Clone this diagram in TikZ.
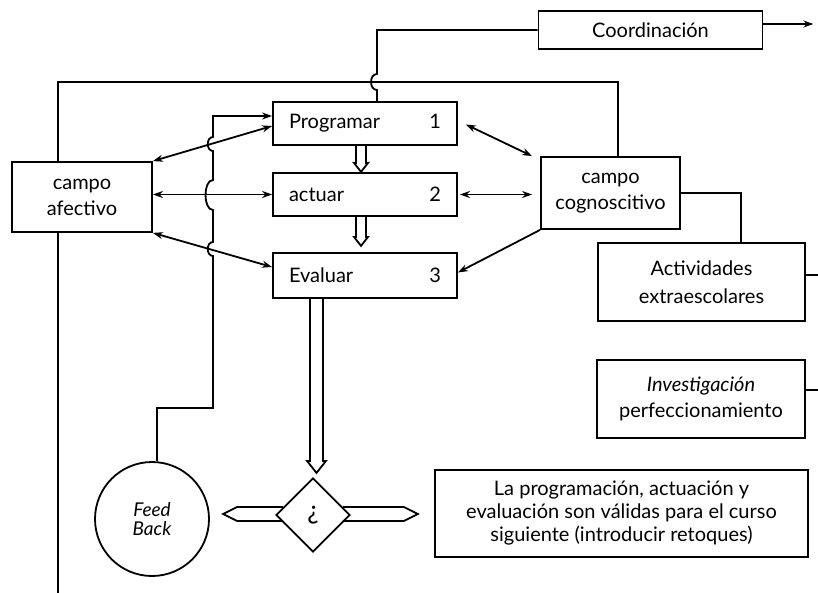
\documentclass[tikz,border=0pt]{standalone}
\usepackage{fontspec}
\setmainfont{Lato}
\usetikzlibrary{shapes.geometric,arrows.meta}
\begin{document}
\begin{tikzpicture}[x=0.5pt,y=-0.5pt,line width=0.9pt,
  box/.style={draw,rectangle,inner sep=0pt,align=center,font=\fontsize{10}{13}\selectfont},
  numbox/.style={box,minimum width=92pt,text width=76pt,align=left},
  >={Stealth[length=5pt,width=3.5pt]},
  hollow/.style={draw,line width=0.9pt,line join=miter}]
\useasboundingbox (0,0) rectangle (818,593);

% helper coordinates
\coordinate (xa) at (58,0);
\coordinate (topR) at (618,82);
\coordinate (cx) at (377,30);
\coordinate (ax) at (741,0);
\coordinate (bot) at (58,593);
\coordinate (fx) at (213,408);
\coordinate (edge) at (818,0);

% nodes
\node[box,minimum width=112pt,minimum height=19pt] (coord) at (650.5,30) {Coordinación};
\node[numbox,minimum height=21.5pt] (prog) at (365,123.5) {Programar\hfill 1};
\node[numbox,minimum height=21.5pt] (act) at (365,194.5) {actuar\hfill 2};
\node[numbox,minimum height=22.5pt] (eval) at (365,275.5) {Evaluar\hfill 3};
\node[box,minimum width=70pt,minimum height=35pt] (afect) at (82,197) {campo\\afectivo};
\node[box,minimum width=69.5pt,minimum height=36pt] (cogn) at (610.5,193) {campo\\cognoscitivo};
\node[box,minimum width=103.5pt,minimum height=39pt,font=\fontsize{10}{14}\selectfont] (activ) at (701.5,282) {Actividades\\extraescolares};
\node[box,minimum width=104pt,minimum height=39pt] (invest) at (701,399) {\textit{Investigación}\\perfeccionamiento};
\node[box,minimum width=186.5pt,minimum height=43.5pt,font=\fontsize{10}{11.5}\selectfont] (lapro) at (621.5,513.5) {La programación, actuación y\\evaluación son válidas para el curso\\siguiente (introducir retoques)};
\node[draw,circle,minimum size=57pt,inner sep=0pt,align=center,font=\fontsize{9.5}{9.5}\selectfont\itshape] (fb) at (152,519) {Feed\\Back};

% hollow arrows (drawn before diamond)
\draw[hollow] ([xshift=-4.5pt]prog.south) -- ++(0,17) -- ++(-2,0) -- ++(7,9) -- ++(7,-9) -- ++(-2,0) -- ++(0,-17);
\draw[hollow] ([xshift=-4.5pt]act.south) -- ++(0,20) -- ++(-2,0) -- ++(7,9) -- ++(7,-9) -- ++(-2,0) -- ++(0,-20);
\draw[hollow] ([xshift=-27.5pt]eval.south) -- ++(0,162) -- ++(-3,0) -- ++(9.5,12) -- ++(9.5,-12) -- ++(-3,0) -- ++(0,-162);

\node[draw,diamond,minimum width=37pt,minimum height=37pt,inner sep=0pt,fill=white,font=\fontsize{13}{14}\selectfont] (dia) at (313,515) {¿};
\draw[hollow] ([xshift=4pt,yshift=4pt]dia.west) -- ++(-46,0) -- ++(-14,7) -- ++(14,7) -- ++(46,0);
\draw[hollow] ([xshift=-4pt,yshift=4pt]dia.east) -- ++(61,0) -- ++(14,7) -- ++(-14,7) -- ++(-61,0);

% Coordinacion connectors
\draw (coord.west) -- (coord.west -| cx) -- (377,74) .. controls (369,74) and (369,90) .. (377,90) -- (prog.north -| cx);
\draw[->] ([yshift=3pt]coord.east) -- ++(50,0);

% top loop
\draw (afect.north -| xa) |- (topR) -- (cogn.north -| topR);
% left vertical
\draw (afect.south -| xa) -- (bot);

% campo afectivo
\draw[<->] ([yshift=-1.25pt]prog.west) -- (afect.north east);
\draw[<->] (afect.east |- act.west) -- (act.west);
\draw[<->] (afect.south east) -- ([yshift=4.25pt]eval.west);

% campo cognoscitivo
\draw[<->] ([xshift=4pt,yshift=-0.5pt]prog.east) -- ([xshift=-4pt]cogn.north west);
\draw[<->,shorten <=1pt,shorten >=4pt] (act.east) -- (cogn.west |- act.east);
\draw[->] (cogn.south west) -- ([yshift=1.5pt]eval.east);
\draw (cogn.east) -| (activ.north -| ax);

% stubs
\draw ([yshift=3.5pt]activ.east) -- ([yshift=3.5pt]activ.east -| edge);
\draw ([yshift=4.5pt]invest.east) -- ([yshift=4.5pt]invest.east -| edge);

% feedback loop
\draw[->] ([xshift=2.5pt]fb.north) |- (fx) -- (213,256)
  .. controls (206,256) and (206,242) .. (213,242) -- (213,210)
  .. controls (203,210) and (203,180) .. (213,180) -- (213,151)
  .. controls (206,151) and (206,137) .. (213,137)
  |- ([yshift=3.75pt]prog.west);
\end{tikzpicture}
\end{document}
